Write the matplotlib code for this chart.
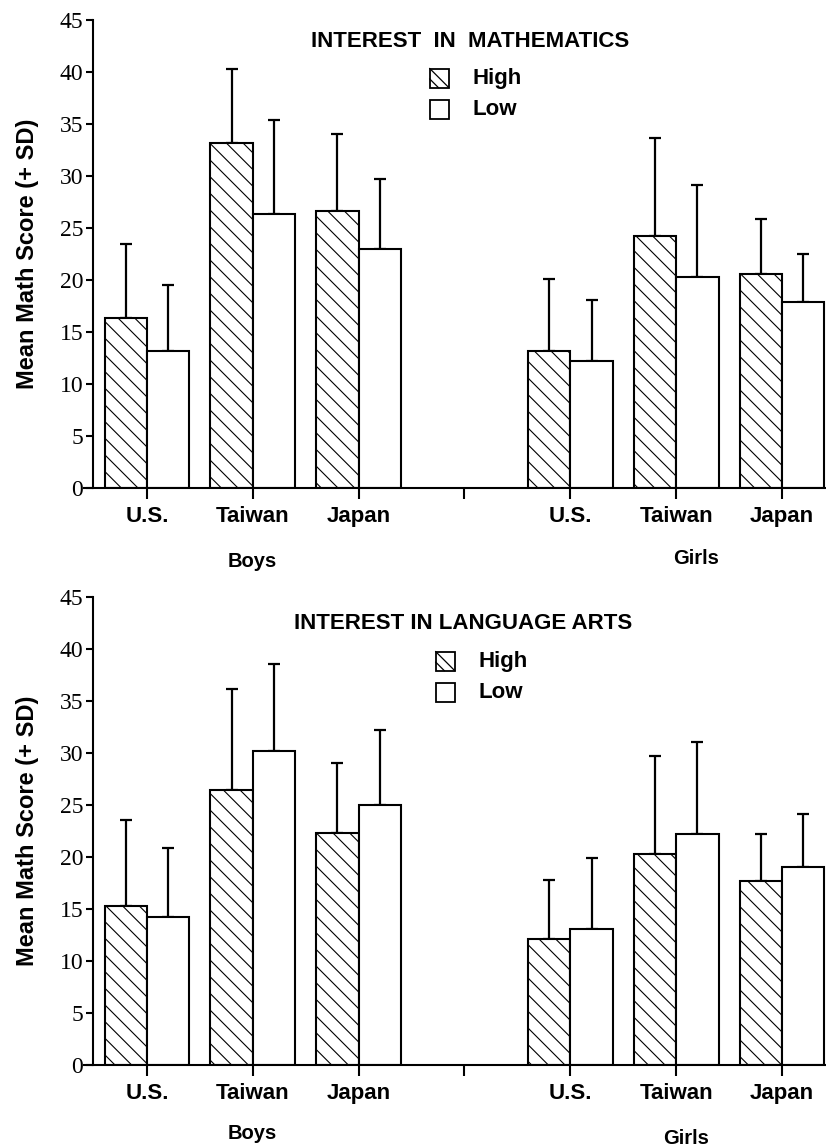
import matplotlib
matplotlib.use("Agg")
import matplotlib.pyplot as plt
import matplotlib.transforms as mtransforms
from matplotlib.patches import Rectangle
from matplotlib.lines import Line2D
import numpy as np

# --- data ---
countries = ['U.S.', 'Taiwan', 'Japan']
groups = ['Boys', 'Girls']

# order: Boys U.S., Taiwan, Japan, Girls U.S., Taiwan, Japan
math_high = [16.3, 33.2, 26.6, 13.2, 24.2, 20.6]
math_high_sd = [7.2, 7.1, 7.4, 6.9, 9.5, 5.3]
math_low = [13.2, 26.3, 23.0, 12.2, 20.3, 17.9]
math_low_sd = [6.3, 9.1, 6.7, 5.9, 8.8, 4.6]

lang_high = [15.3, 26.4, 22.3, 12.1, 20.3, 17.7]
lang_high_sd = [8.3, 9.8, 6.7, 5.7, 9.4, 4.5]
lang_low = [14.2, 30.2, 25.0, 13.1, 22.2, 19.0]
lang_low_sd = [6.7, 8.4, 7.2, 6.8, 8.9, 5.1]

# serif numbers on the y axis (Times-like), bold sans everywhere else
plt.rcParams['font.family'] = 'serif'
plt.rcParams['font.serif'] = ['Liberation Serif', 'DejaVu Serif']
plt.rcParams['hatch.linewidth'] = 0.8
sans = ['Liberation Sans', 'DejaVu Sans']

W, H = 826, 1148
fig = plt.figure(figsize=(W / 100, H / 100), dpi=100)

pos = np.array([0, 1, 2, 4, 5, 6])
bw = 0.4


def draw_panel(ax, high, high_sd, low, low_sd, title, lay):
    ax.bar(pos - bw / 2, high, width=bw, color='white', edgecolor='black',
           linewidth=1.5, hatch='\\\\', zorder=2)
    ax.bar(pos + bw / 2, low, width=bw, color='white', edgecolor='black',
           linewidth=1.5, zorder=2)
    ax.errorbar(pos - bw / 2, high, yerr=[np.zeros(6), high_sd], fmt='none',
                ecolor='black', elinewidth=1.6, capsize=4.5, capthick=1.6, zorder=1)
    ax.errorbar(pos + bw / 2, low, yerr=[np.zeros(6), low_sd], fmt='none',
                ecolor='black', elinewidth=1.6, capsize=4.5, capthick=1.6, zorder=1)

    ax.set_xlim(-0.594, 6.415)
    ax.set_ylim(0, 45)
    ax.spines['top'].set_visible(False)
    ax.spines['right'].set_visible(False)
    ax.spines['left'].set_position(('data', -0.51))
    ax.spines['left'].set_linewidth(1.5)
    ax.spines['bottom'].set_linewidth(1.5)

    ax.set_yticks(range(0, 46, 5))
    ax.tick_params(axis='y', direction='out', length=5, width=1.5, pad=2, labelsize=17)

    ax.set_xticks([0, 1, 2, 3, 4, 5, 6])
    ax.set_xticklabels(countries + [''] + countries, fontfamily=sans,
                       fontweight='bold', fontsize=16)
    ax.tick_params(axis='x', direction='out', length=8, width=1.5, pad=5)

    # group labels under the country names
    tr = mtransforms.blended_transform_factory(ax.transData, ax.transAxes)
    for gx, gy, name in zip(lay['gx'], lay['gy'], groups):
        ax.text(gx, gy, name, transform=tr, ha='center', va='center',
                fontfamily=sans, fontweight='bold', fontsize=14.5)

    # title and hand-made key
    ax.text(lay['tx'], lay['ty'], title, transform=ax.transAxes, ha='center',
            va='center', fontfamily=sans, fontweight='bold', fontsize=16)
    sw, sh = 19 / 742, 19 / 468
    for yy, lab, hatched in [(lay['hy'], 'High', True), (lay['ly'], 'Low', False)]:
        x0, y0 = lay['sx'], yy - sh / 2
        ax.add_patch(Rectangle((x0, y0), sw, sh, transform=ax.transAxes,
                               facecolor='white', edgecolor='black', linewidth=1.3,
                               clip_on=False))
        if hatched:
            ax.add_line(Line2D([x0, x0 + sw], [y0 + sh, y0], transform=ax.transAxes,
                               color='black', linewidth=0.9, clip_on=False))
            ax.add_line(Line2D([x0, x0 + sw * 0.45], [y0 + sh * 0.45, y0],
                               transform=ax.transAxes, color='black',
                               linewidth=0.9, clip_on=False))
        ax.text(lay['lx'], yy, lab, transform=ax.transAxes, ha='left', va='center',
                fontfamily=sans, fontweight='bold', fontsize=16)


ax1 = fig.add_axes([84 / W, 1 - 488 / H, 742 / W, 468 / H])
draw_panel(ax1, math_high, math_high_sd, math_low, math_low_sd,
           'INTEREST  IN  MATHEMATICS',
           dict(gx=[1.0, 5.19], gy=[-0.158, -0.150], tx=0.520, ty=0.953,
                sx=0.466, lx=0.523, hy=0.876, ly=0.808))

ax2 = fig.add_axes([84 / W, 1 - 1065 / H, 742 / W, 468 / H])
draw_panel(ax2, lang_high, lang_high_sd, lang_low, lang_low_sd,
           'INTEREST IN LANGUAGE ARTS',
           dict(gx=[1.0, 5.09], gy=[-0.146, -0.156], tx=0.511, ty=0.944,
                sx=0.474, lx=0.531, hy=0.863, ly=0.795))

for yc in [(20 + 488) / 2, (597 + 1065) / 2]:
    fig.text(28 / W, 1 - yc / H, 'Mean Math Score (+ SD)', rotation=90,
             ha='center', va='center', fontfamily=sans, fontweight='bold', fontsize=17)

fig.savefig('out.png', dpi=100, facecolor='white')
